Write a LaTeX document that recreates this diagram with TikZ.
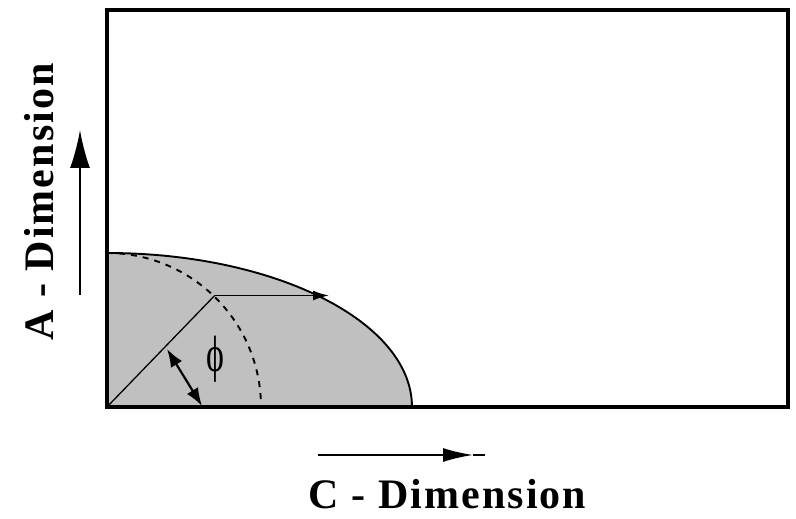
\documentclass[tikz,border=0pt]{standalone}
\usepackage{fontspec}
\setmainfont{Liberation Serif}
\newfontfamily\labfont[LetterSpace=5]{Liberation Serif}
\usetikzlibrary{arrows.meta}
\definecolor{quadfill}{RGB}{192,192,192}
\tikzset{
  axislabel/.style={font=\labfont\bfseries\fontsize{42}{42}\selectfont, inner sep=0pt, anchor=base},
  frame/.style={line width=4.5pt},
  thin line/.style={line width=1.3pt},
  dimarrow/.style={line width=1.8pt, -{Latex[length=38pt,width=20pt]}},
}
\begin{document}
\begin{tikzpicture}[x=1pt,y=1pt]
\useasboundingbox (0,0) rectangle (796,519);
% key points
\coordinate (O) at (107,112);
\coordinate (TR) at (788,509);
\coordinate (E) at (412,112);
\coordinate (Ctop) at (107,266);
\coordinate (P) at (214.7,223.5);
\coordinate (Q) at (329,223.5);
\coordinate (A1) at (167,170);
\coordinate (A2) at (202,113);
% filled quarter ellipse
\fill[quadfill] (O) -- (E) arc[start angle=0,end angle=90,x radius=305,y radius=154] -- cycle;
\draw[line width=1.9pt] (E) arc[start angle=0,end angle=90,x radius=305,y radius=154];
% dashed circle
\draw[line width=1.9pt, dash pattern=on 6pt off 6pt] (Ctop) arc[start angle=90,end angle=0,radius=154];
% radial line and horizontal arrow
\draw[thin line] (O) -- (P);
\draw[line width=1.8pt, -{Latex[length=16pt,width=10pt]}] (P) -- (Q);
% angle arrow
\draw[line width=2.2pt, {Latex[length=18pt,width=13pt]}-{Latex[length=18pt,width=13pt]}] (A1) -- (A2);
% phi
\node[inner sep=0pt, yscale=1.5] (phi) at (215,160) {\fontsize{34}{34}\selectfont\symbol{"03D5}};
% frame
\draw[frame] (O) rectangle (TR);
% axis arrows
\coordinate (H1) at (318,64);
\coordinate (H2) at (473,64);
\coordinate (H3) at (485,64);
\draw[line width=1.8pt, -{Latex[length=30pt,width=14pt]}] (H1) -- (H2);
\draw[line width=1.8pt] (H2) -- (H3);
\coordinate (V1) at (80,224);
\coordinate (V2) at (80,389);
\draw[dimarrow] (V1) -- (V2);
% labels
\node[axislabel] (clab) at (447.5,10) {C - Dimension};
\node[axislabel, rotate=90] (alab) at (53,317) {A - Dimension};
\end{tikzpicture}
\end{document}
